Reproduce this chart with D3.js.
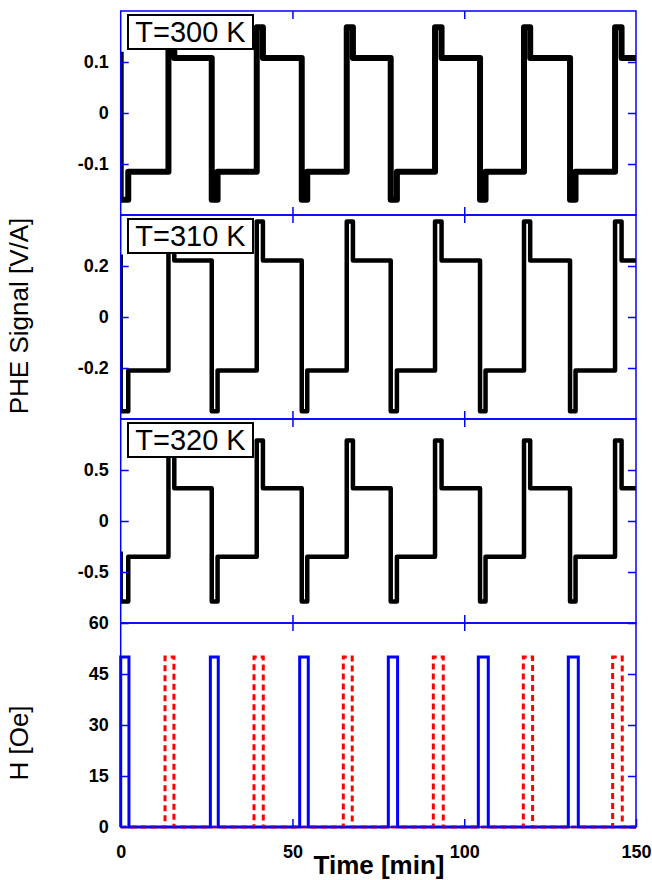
<!DOCTYPE html>
<html>
<head>
<meta charset="utf-8">
<script src="https://cdn.jsdelivr.net/npm/d3@7"></script>
<style>
  body { margin: 0; background: #fff; }
  text { font-family: "Liberation Sans", Arial, sans-serif; }
</style>
</head>
<body>
<svg id="chart" width="652" height="880"></svg>
<script>
// time axis
const timeTicks = [0, 50, 100, 150];
const timeLabels = ["0", "50", "100", "150"];

// one entry per PHE panel
const panelLabels = ["T=300 K", "T=310 K", "T=320 K"];
const signalDomains = [[-0.2, 0.2], [-0.4, 0.4], [-1, 1]];
const signalTicks = [[-0.1, 0, 0.1], [-0.2, 0, 0.2], [-0.5, 0, 0.5]];
const signalTickLabels = [["-0.1", "0", "0.1"], ["-0.2", "0", "0.2"], ["-0.5", "0", "0.5"]];

// switching times [min]
const dipStart  = [0, 26.5, 52.7, 78.6, 104.6, 130.8];
const dipEnd    = [2.2, 28.2, 54.3, 80.4, 106.2, 132.4];
const peakStart = [13.9, 39.6, 65.8, 91.5, 117.4, 143.9];
const peakEnd   = [15.6, 41.4, 67.6, 93.4, 119.2, 145.8];

// signal levels per panel [V/A]
const startLevel   = [0.12, 0.245, -0.3];
const plateauHigh  = [0.108, 0.222, 0.32];
const plateauLow   = [-0.115, -0.21, -0.35];
const peakLevel    = [0.168, 0.375, 0.79];
const dipLevel     = [-0.17, -0.37, -0.79];

// field pulses [min]
const bluePulses = [[0, 2.4], [26.1, 28.4], [52.1, 54.6], [77.9, 80.6], [104.1, 107.0], [130.3, 133.2]];
const redPulses  = [[12.9, 15.5], [38.8, 41.5], [64.8, 67.4], [91.0, 93.9], [117.2, 119.9], [143.2, 146.0]];
const pulseField = 50;
const fieldDomain = [0, 60];
const fieldTicks = [0, 15, 30, 45, 60];

const svg = d3.select("#chart");
const left = 120.7, right = 636;
const panelTop = 11, panelH = 204;
const blue = "#0000ff";

const x = d3.scaleLinear().domain([0, 150]).range([left, right]);

function signalPoints(p) {
  const pts = [[0, startLevel[p]]];
  dipStart.forEach((t, i) => {
    const prev = i === 0 ? startLevel[p] : plateauHigh[p];
    pts.push([t, prev], [t, dipLevel[p]], [dipEnd[i], dipLevel[p]], [dipEnd[i], plateauLow[p]],
             [peakStart[i], plateauLow[p]], [peakStart[i], peakLevel[p]],
             [peakEnd[i], peakLevel[p]], [peakEnd[i], plateauHigh[p]]);
  });
  pts.push([150, plateauHigh[p]]);
  return pts;
}

function pulsePoints(pulses) {
  const pts = [[0, 0]];
  pulses.forEach(([s, e]) => {
    pts.push([s, 0], [s, pulseField], [e, pulseField], [e, 0]);
  });
  pts.push([150, 0]);
  return pts;
}

function styleTicks(g) {
  g.select(".domain").remove();
  g.selectAll(".tick line").attr("stroke", blue).attr("stroke-width", 1.5);
  g.selectAll(".tick text")
    .attr("fill", "#000")
    .style("font-size", "18px")
    .style("font-weight", "bold");
}

function drawFrame(top, y, yTicks, yLabels, withTimeLabels) {
  const bottom = top + panelH;
  svg.append("g").attr("transform", `translate(${left},0)`)
    .call(d3.axisLeft(y).tickValues(yTicks).tickSize(-8).tickPadding(12)
      .tickFormat((d, i) => yLabels[i]))
    .call(styleTicks);
  svg.append("g").attr("transform", `translate(${right},0)`)
    .call(d3.axisRight(y).tickValues(yTicks).tickSize(-8).tickFormat(""))
    .call(styleTicks);
  svg.append("g").attr("transform", `translate(0,${top})`)
    .call(d3.axisTop(x).tickValues([50, 100]).tickSize(-8).tickFormat(""))
    .call(styleTicks);
  const bx = svg.append("g").attr("transform", `translate(0,${bottom})`);
  if (withTimeLabels) {
    bx.call(d3.axisBottom(x).tickValues(timeTicks).tickSize(-8).tickPadding(18)
      .tickFormat((d, i) => timeLabels[i]));
  } else {
    bx.call(d3.axisBottom(x).tickValues([50, 100]).tickSize(-8).tickFormat(""));
  }
  bx.call(styleTicks);
  svg.append("rect")
    .attr("x", left).attr("y", top)
    .attr("width", right - left).attr("height", panelH)
    .attr("fill", "none").attr("stroke", blue).attr("stroke-width", 1.5);
}

// PHE signal panels
panelLabels.forEach((label, p) => {
  const top = panelTop + p * panelH;
  const y = d3.scaleLinear().domain(signalDomains[p]).range([top + panelH, top]);

  svg.append("clipPath").attr("id", `clip-${p}`)
    .append("rect").attr("x", left).attr("y", top).attr("width", right - left).attr("height", panelH);

  const line = d3.line().x(d => x(d[0])).y(d => y(d[1]));
  svg.append("path")
    .datum(signalPoints(p))
    .attr("clip-path", `url(#clip-${p})`)
    .attr("d", line)
    .attr("fill", "none")
    .attr("stroke", "#000")
    .attr("stroke-linejoin", "round")
    .attr("stroke-width", p === 0 ? 6 : 4.5);

  // temperature box
  const box = svg.append("g").attr("transform", `translate(128,${top + 4})`);
  box.append("rect")
    .attr("width", 125).attr("height", 34)
    .attr("fill", "#fff").attr("stroke", "#000").attr("stroke-width", 2);
  box.append("text")
    .attr("x", 62.5).attr("y", 27)
    .attr("text-anchor", "middle")
    .style("font-size", "29px")
    .text(label);

  drawFrame(top, y, signalTicks[p], signalTickLabels[p], false);
});

// field panel
const fTop = panelTop + 3 * panelH;
const yH = d3.scaleLinear().domain(fieldDomain).range([fTop + panelH, fTop]);
const hLine = d3.line().x(d => x(d[0])).y(d => yH(d[1]));

svg.append("path")
  .datum(pulsePoints(bluePulses))
  .attr("d", hLine)
  .attr("fill", "none")
  .attr("stroke", blue)
  .attr("stroke-width", 3);

svg.append("path")
  .datum(pulsePoints(redPulses))
  .attr("d", hLine)
  .attr("fill", "none")
  .attr("stroke", "#ff0000")
  .attr("stroke-width", 3)
  .attr("stroke-dasharray", "6,4");

drawFrame(fTop, yH, fieldTicks, fieldTicks.map(String), true);

// axis titles
svg.append("text")
  .attr("x", 379).attr("y", 874)
  .attr("text-anchor", "middle")
  .style("font-size", "26px")
  .style("font-weight", "bold")
  .text("Time [min]");

svg.append("text")
  .attr("transform", "translate(28,316) rotate(-90)")
  .attr("text-anchor", "middle")
  .style("font-size", "26px")
  .text("PHE Signal [V/A]");

svg.append("text")
  .attr("transform", "translate(28,743) rotate(-90)")
  .attr("text-anchor", "middle")
  .style("font-size", "26px")
  .text("H [Oe]");
</script>
</body>
</html>
